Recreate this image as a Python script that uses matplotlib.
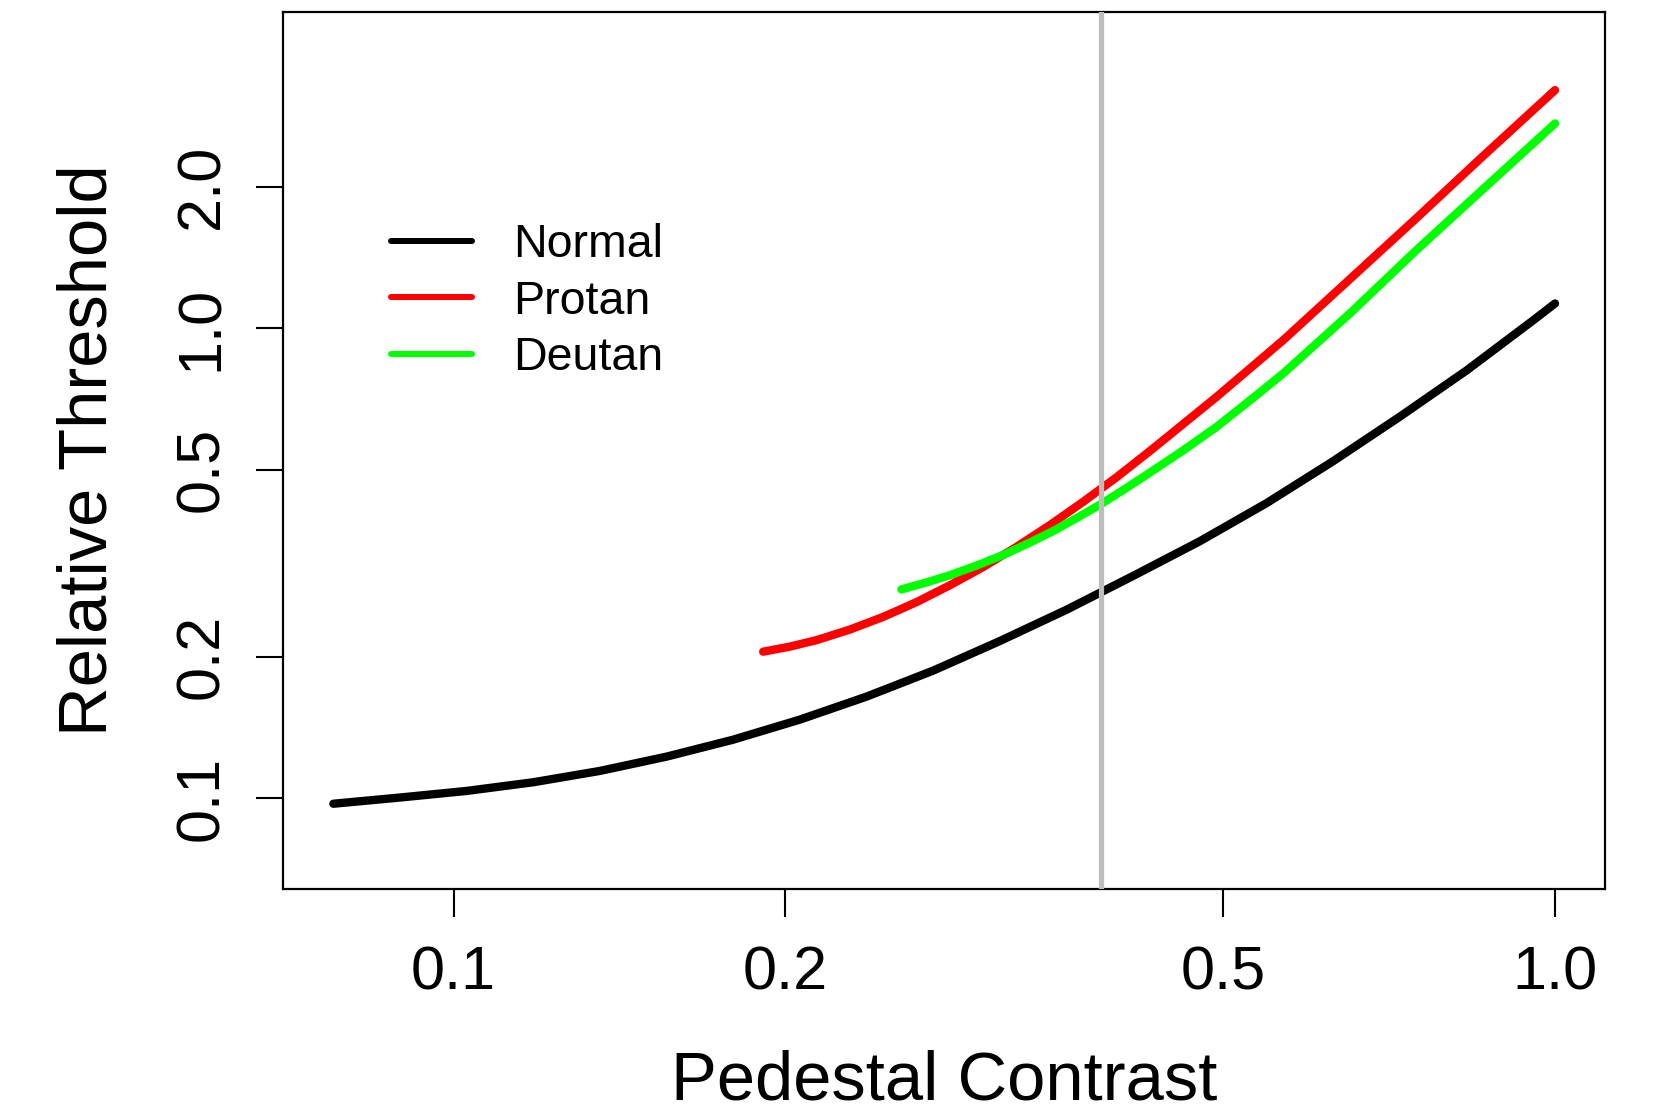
import matplotlib
matplotlib.use('Agg')
import matplotlib.pyplot as plt
from matplotlib.lines import Line2D
from matplotlib.ticker import NullLocator

# ---- data (log-log axes) ----
normal_x = [0.07777, 0.08937, 0.10273, 0.11808, 0.13576, 0.15609, 0.17941, 0.20619,
            0.23706, 0.27250, 0.31330, 0.36020, 0.41399, 0.47597, 0.54698, 0.62881,
            0.72290, 0.83107, 0.95504, 1.0]
normal_y = [0.09720, 0.10020, 0.10349, 0.10799, 0.11416, 0.12245, 0.13306, 0.14678,
            0.16431, 0.18664, 0.21580, 0.25158, 0.29695, 0.35198, 0.42401, 0.52096,
            0.64799, 0.81270, 1.0385, 1.1287]

protan_x = [0.1910, 0.2019, 0.2135, 0.2289, 0.2454, 0.2632, 0.2822, 0.3025, 0.3243,
            0.3477, 0.3728, 0.3998, 0.4285, 0.4928, 0.5665, 0.6512, 0.7484, 0.8602, 1.0]
protan_y = [0.2048, 0.2099, 0.2167, 0.2282, 0.2428, 0.2611, 0.2836, 0.3101, 0.3422,
            0.3807, 0.4268, 0.4815, 0.5471, 0.7140, 0.9429, 1.2716, 1.7147, 2.3237, 3.2119]

deutan_x = [0.2550, 0.2678, 0.2822, 0.2985, 0.3159, 0.3334, 0.3516, 0.3690, 0.3873,
            0.4074, 0.4285, 0.4596, 0.4928, 0.5282, 0.5665, 0.6512, 0.7484, 0.8602, 1.0]
deutan_y = [0.2779, 0.2869, 0.2980, 0.3125, 0.3294, 0.3494, 0.3717, 0.3959, 0.4227,
            0.4556, 0.4923, 0.5493, 0.6164, 0.7012, 0.8009, 1.0747, 1.4660, 1.9764, 2.7279]

vline_x = 0.387

series_names = ['Normal', 'Protan', 'Deutan']
series_colors = ['#000000', '#FF0000', '#00FF00']

x_ticks = [0.1, 0.2, 0.5, 1.0]
x_tick_labels = ['0.1', '0.2', '0.5', '1.0']
y_ticks = [0.1, 0.2, 0.5, 1.0, 2.0]
y_tick_labels = ['0.1', '0.2', '0.5', '1.0', '2.0']

x_label = 'Pedestal Contrast'
y_label = 'Relative Threshold'

# ---- figure ----
plt.rcParams['font.family'] = ['Liberation Sans', 'DejaVu Sans']

W, H = 1655, 1115
fig = plt.figure(figsize=(W / 100, H / 100), dpi=100)
L, R, T, B = 283, 1604.5, 12, 889
ax = fig.add_axes([L / W, 1 - B / H, (R - L) / W, (B - T) / H])
ax.set_xscale('log')
ax.set_yscale('log')

xs_all = [normal_x, protan_x, deutan_x]
ys_all = [normal_y, protan_y, deutan_y]
for xs, ys, c, name in zip(xs_all, ys_all, series_colors, series_names):
    ax.plot(xs, ys, color=c, lw=6.0, solid_capstyle='round',
            solid_joinstyle='round', label=name, zorder=3)

ax.axvline(vline_x, color='#BEBEBE', lw=3.8, zorder=5)

ax.set_xlim(0.0700, 1.109)
ax.set_ylim(0.0640, 4.71)

ax.set_xticks(x_ticks)
ax.set_xticklabels(x_tick_labels)
ax.set_yticks(y_ticks)
ax.set_yticklabels(y_tick_labels)
ax.xaxis.set_minor_locator(NullLocator())
ax.yaxis.set_minor_locator(NullLocator())

ax.tick_params(axis='both', direction='out', length=19.8, width=1.5,
               labelsize=44, color='black')
ax.tick_params(axis='x', pad=21)
ax.tick_params(axis='y', pad=17.6)
for lab in ax.get_yticklabels():
    lab.set_rotation(90)
    lab.set_verticalalignment('center')

for sp in ax.spines.values():
    sp.set_linewidth(1.6)

ax.set_xlabel(x_label, fontsize=49.5)
ax.xaxis.set_label_coords(0.5, (B - 1100) / (B - T))
ax.xaxis.label.set_verticalalignment('baseline')

ax.set_ylabel(y_label, fontsize=49.5)
ax.yaxis.set_label_coords((107 - L) / (R - L), 0.5)
ax.yaxis.label.set_verticalalignment('baseline')

handles = [Line2D([0], [0], color=c, lw=4.3, solid_capstyle='round')
           for c in series_colors]
ax.legend(handles, series_names, loc='center left',
          bbox_to_anchor=(391.4 / W, 1 - 301.5 / H), bbox_transform=fig.transFigure,
          frameon=False, fontsize=33.5, handlelength=1.73, handletextpad=0.88,
          labelspacing=0.265, borderpad=0, borderaxespad=0)

fig.savefig('out.png', dpi=100)
